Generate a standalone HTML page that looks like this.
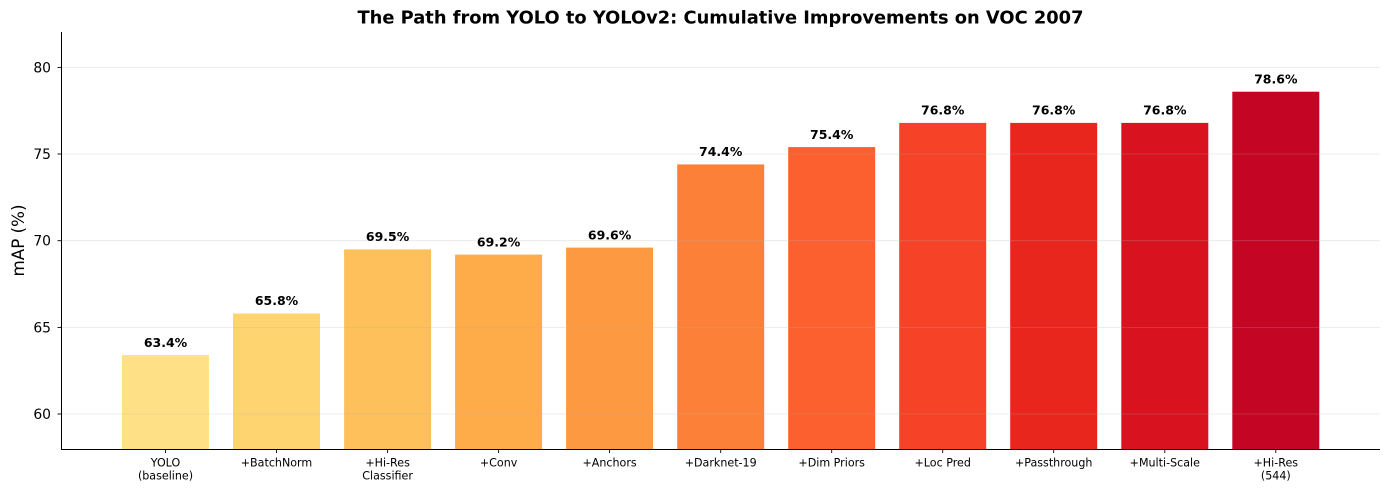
<!DOCTYPE html>
<html><head><meta charset="utf-8"><style>
html,body{margin:0;padding:0;background:#fff;}
svg{display:block;}
text{font-family:"DejaVu Sans","Liberation Sans",sans-serif;}
</style></head><body>
<svg width="1389" height="490" viewBox="0 0 1389 490" xmlns="http://www.w3.org/2000/svg">
<rect width="1389" height="490" fill="#fff"/>
<text x="720.5" y="23.5" font-size="17.8" font-weight="bold" text-anchor="middle" textLength="726" lengthAdjust="spacingAndGlyphs">The Path from YOLO to YOLOv2: Cumulative Improvements on VOC 2007</text>
<!-- bars -->
<g>
<rect x="122" y="355.1" width="87" height="93.9" fill="#FEE187"/>
<rect x="233" y="313.5" width="87" height="135.5" fill="#FED471"/>
<rect x="344.1" y="249.4" width="87" height="199.6" fill="#FEC05B"/>
<rect x="455.1" y="254.6" width="87" height="194.4" fill="#FEAC49"/>
<rect x="566.1" y="247.6" width="87" height="201.4" fill="#FD9941"/>
<rect x="677.2" y="164.4" width="87" height="284.6" fill="#FD8038"/>
<rect x="788.2" y="147.1" width="87" height="301.9" fill="#FC602F"/>
<rect x="899.2" y="122.9" width="87" height="326.1" fill="#F64227"/>
<rect x="1010.2" y="122.9" width="87" height="326.1" fill="#E9261E"/>
<rect x="1121.3" y="122.9" width="87" height="326.1" fill="#D8131F"/>
<rect x="1232.3" y="91.7" width="87" height="357.3" fill="#C50524"/>
</g>
<!-- grid -->
<g stroke="#b0b0b0" stroke-opacity="0.3" stroke-width="0.8">
<line x1="61" x2="1380" y1="67.4" y2="67.4"/>
<line x1="61" x2="1380" y1="154" y2="154"/>
<line x1="61" x2="1380" y1="240.7" y2="240.7"/>
<line x1="61" x2="1380" y1="327.4" y2="327.4"/>
<line x1="61" x2="1380" y1="414" y2="414"/>
</g>
<!-- spines -->
<g stroke="#000" stroke-width="1">
<line x1="61.5" x2="61.5" y1="32" y2="449.5"/>
<line x1="61" x2="1380" y1="449.5" y2="449.5"/>
</g>
<!-- y ticks -->
<g stroke="#000" stroke-width="0.9">
<line x1="57.5" x2="61" y1="67.4" y2="67.4"/>
<line x1="57.5" x2="61" y1="154" y2="154"/>
<line x1="57.5" x2="61" y1="240.7" y2="240.7"/>
<line x1="57.5" x2="61" y1="327.4" y2="327.4"/>
<line x1="57.5" x2="61" y1="414" y2="414"/>
</g>
<g font-size="13.9" text-anchor="end" fill="#000">
<text x="51" y="72.4">80</text>
<text x="51" y="159">75</text>
<text x="51" y="245.7">70</text>
<text x="51" y="332.4">65</text>
<text x="51" y="419">60</text>
</g>
<text transform="translate(24,240.5) rotate(-90)" font-size="16.7" text-anchor="middle">mAP (%)</text>
<!-- x ticks -->
<g stroke="#000" stroke-width="0.9">
<line x1="165.5" x2="165.5" y1="449.5" y2="453"/>
<line x1="276.5" x2="276.5" y1="449.5" y2="453"/>
<line x1="387.6" x2="387.6" y1="449.5" y2="453"/>
<line x1="498.6" x2="498.6" y1="449.5" y2="453"/>
<line x1="609.6" x2="609.6" y1="449.5" y2="453"/>
<line x1="720.7" x2="720.7" y1="449.5" y2="453"/>
<line x1="831.7" x2="831.7" y1="449.5" y2="453"/>
<line x1="942.7" x2="942.7" y1="449.5" y2="453"/>
<line x1="1053.7" x2="1053.7" y1="449.5" y2="453"/>
<line x1="1164.8" x2="1164.8" y1="449.5" y2="453"/>
<line x1="1275.8" x2="1275.8" y1="449.5" y2="453"/>
</g>
<g font-size="11.1" text-anchor="middle" fill="#000">
<text x="165.5" y="466.5">YOLO</text>
<text x="165.5" y="479.3">(baseline)</text>
<text x="276.5" y="466.5">+BatchNorm</text>
<text x="387.6" y="466.5">+Hi-Res</text>
<text x="387.6" y="479.3">Classifier</text>
<text x="498.6" y="466.5">+Conv</text>
<text x="609.6" y="466.5">+Anchors</text>
<text x="720.7" y="466.5">+Darknet-19</text>
<text x="831.7" y="466.5">+Dim Priors</text>
<text x="942.7" y="466.5">+Loc Pred</text>
<text x="1053.7" y="466.5">+Passthrough</text>
<text x="1164.8" y="466.5">+Multi-Scale</text>
<text x="1275.8" y="466.5">+Hi-Res</text>
<text x="1275.8" y="479.3">(544)</text>
</g>
<!-- value labels -->
<g font-size="12.5" font-weight="bold" text-anchor="middle" fill="#000">
<text x="165.5" y="346.8">63.4%</text>
<text x="276.5" y="305.2">65.8%</text>
<text x="387.6" y="241.1">69.5%</text>
<text x="498.6" y="246.3">69.2%</text>
<text x="609.6" y="239.3">69.6%</text>
<text x="720.7" y="156.1">74.4%</text>
<text x="831.7" y="138.8">75.4%</text>
<text x="942.7" y="114.6">76.8%</text>
<text x="1053.7" y="114.6">76.8%</text>
<text x="1164.8" y="114.6">76.8%</text>
<text x="1275.8" y="83.4">78.6%</text>
</g>
</svg>
</body></html>
